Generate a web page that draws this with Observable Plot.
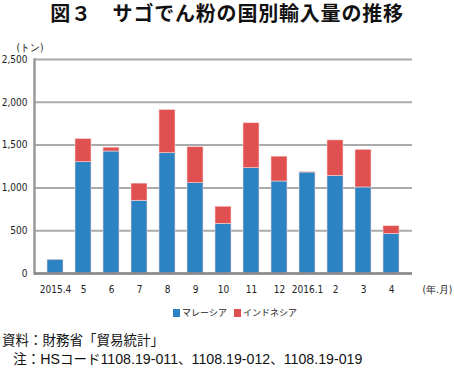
<!DOCTYPE html>
<html><head><meta charset="utf-8">
<script src="https://cdn.jsdelivr.net/npm/d3@7"></script>
<script src="https://cdn.jsdelivr.net/npm/@observablehq/plot@0.6"></script>
<style>
body{margin:0;background:#fff;width:454px;height:368px;position:relative;overflow:hidden;font-family:"Noto Sans CJK JP","Noto Sans",sans-serif;}
#title{position:absolute;left:0;top:1px;width:454px;text-align:center;font-weight:bold;font-size:20px;line-height:24px;letter-spacing:0.8px;color:#111;white-space:nowrap;}
#chart{position:absolute;left:0;top:30px;}
#legend{position:absolute;left:16px;top:305px;width:438px;text-align:center;font-size:9px;line-height:16px;color:#222;white-space:nowrap;}
#legend span.sw{display:inline-block;width:7px;height:8px;margin-right:2px;vertical-align:-1px;}
#cap{position:absolute;left:2px;top:332px;font-family:"Liberation Sans","Noto Sans CJK JP",sans-serif;font-size:13.5px;line-height:18px;color:#111;white-space:nowrap;}
#cap .n{font-size:14.2px;}
</style></head>
<body>
<div id="title">図３　サゴでん粉の国別輸入量の推移</div>
<div id="chart"></div>
<div id="legend"></div>
<div id="cap">資料：財務省「貿易統計」<br>&nbsp;&nbsp;&nbsp;注：<span class="n">HS</span>コード<span class="n">1108.19-011</span>、<span class="n">1108.19-012</span>、<span class="n">1108.19-019</span></div>
<script>
const months = ["2015.4","5","6","7","8","9","10","11","12","2016.1","2","3","4"];
const series = ["マレーシア","インドネシア"];
const malaysia = [160,1300,1425,850,1405,1055,580,1230,1075,1180,1140,1005,462];
const indonesia = [0,270,45,200,505,420,200,525,290,8,415,440,90];
const colors = ["#2b83c3","#e05050"];
const yTicks = [0,500,1000,1500,2000,2500];

const data = [];
months.forEach((m,i)=>{
  data.push({month:m, series:series[0], value:malaysia[i]});
  data.push({month:m, series:series[1], value:indonesia[i]});
});

const numFont = "'Liberation Sans Narrow','DejaVu Sans Condensed','Liberation Sans',sans-serif";
const plot = Plot.plot({
  width:454, height:272,
  marginTop:29, marginBottom:29, marginLeft:34, marginRight:42,
  style:{fontFamily:numFont, fontSize:"10px", color:"#222", background:"white", overflow:"visible"},
  x:{domain:months, padding:0.42, label:null},
  y:{domain:[0,2500], label:null},
  color:{domain:series, range:colors},
  marks:[
    Plot.gridY(yTicks, {stroke:"#aaa", strokeOpacity:1, strokeWidth:2}),
    Plot.barY(data, Plot.stackY({x:"month", y:"value", fill:"series", order:series, stroke:"#f6d6d6", strokeWidth:0.6})),
    Plot.frame({anchor:"left", stroke:"#999", strokeWidth:2.5}),
    Plot.ruleY([0], {stroke:"#888", strokeWidth:2.5}),
    Plot.axisY(yTicks, {tickSize:0, tickPadding:7, tickFormat:d3.format(","), label:null, fontSize:10}),
    Plot.axisX({tickSize:0, tickPadding:12, label:null, fontSize:10}),
    Plot.text(["(トン)"], {frameAnchor:"top-left", dx:-18, dy:-16, textAnchor:"start", fontSize:10}),
    Plot.text(["(年.月)"], {frameAnchor:"bottom-right", dx:10, dy:19, textAnchor:"start", fontSize:10})
  ]
});
document.getElementById("chart").appendChild(plot);

const lg = document.getElementById("legend");
lg.innerHTML = series.map((s,i)=>`<span class="sw" style="background:${colors[i]}"></span>${s}`).join('<span style="display:inline-block;width:7px"></span>');
</script>
</body></html>
